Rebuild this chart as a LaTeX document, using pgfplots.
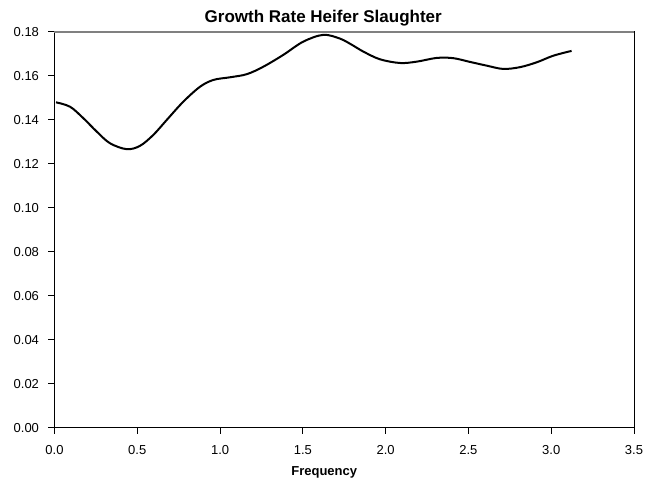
\documentclass[border=0pt]{standalone}
\usepackage{fontspec}
\setmainfont{Liberation Sans}
\usepackage{pgfplots}
\pgfplotsset{compat=1.18}
\begin{document}
\begin{tikzpicture}
\begin{axis}[
  scale only axis,
  width=579.5bp, height=395.7bp,
  xmin=0, xmax=3.5, ymin=0, ymax=0.18,
  xtick={0,0.5,...,3.5},
  ytick={0,0.02,...,0.18},
  xticklabel style={yshift=-8bp, /pgf/number format/.cd,fixed,fixed zerofill,precision=1},
  yticklabel style={xshift=-6bp, /pgf/number format/.cd,fixed,fixed zerofill,precision=2},
  /pgf/number format/assume math mode=true,
  tick label style={font=\fontsize{13bp}{15bp}\selectfont},
  tick align=outside,
  major tick length=6bp,
  xtick pos=bottom, ytick pos=left,
  axis line style={line width=1bp},
  tick style={line width=1bp, black},
  title={\textbf{Growth Rate Heifer Slaughter}},
  title style={font=\fontsize{17bp}{19bp}\selectfont, yshift=-4bp, xshift=-21bp},
  xlabel={\textbf{Frequency}},
  xlabel style={font=\fontsize{13bp}{15bp}\selectfont, yshift=-5bp, xshift=-20bp},
  clip=false,
]
\addplot[black, line width=2bp, smooth, tension=0.55] coordinates {
(0.009,0.1480)
(0.094,0.1460)
(0.174,0.1408)
(0.255,0.1347)
(0.335,0.1294)
(0.436,0.1267)
(0.516,0.1282)
(0.597,0.1332)
(0.678,0.1400)
(0.778,0.1483)
(0.879,0.1551)
(0.960,0.1582)
(1.060,0.1594)
(1.161,0.1608)
(1.261,0.1642)
(1.382,0.1696)
(1.502,0.1756)
(1.623,0.1787)
(1.724,0.1770)
(1.800,0.1740)
(1.865,0.1711)
(1.965,0.1676)
(2.086,0.1659)
(2.187,0.1665)
(2.308,0.1682)
(2.408,0.1681)
(2.509,0.1664)
(2.610,0.1647)
(2.710,0.1632)
(2.811,0.1640)
(2.912,0.1662)
(3.012,0.1692)
(3.123,0.1714)
};
\draw[gray, line width=1.2bp] (rel axis cs:0,1) -- (rel axis cs:1,1);
\end{axis}
\pgfresetboundingbox
\path ([shift={(-54.5bp,-54.3bp)}]current axis.south west) rectangle ([shift={(26bp,32bp)}]current axis.north east);
\end{tikzpicture}
\end{document}
